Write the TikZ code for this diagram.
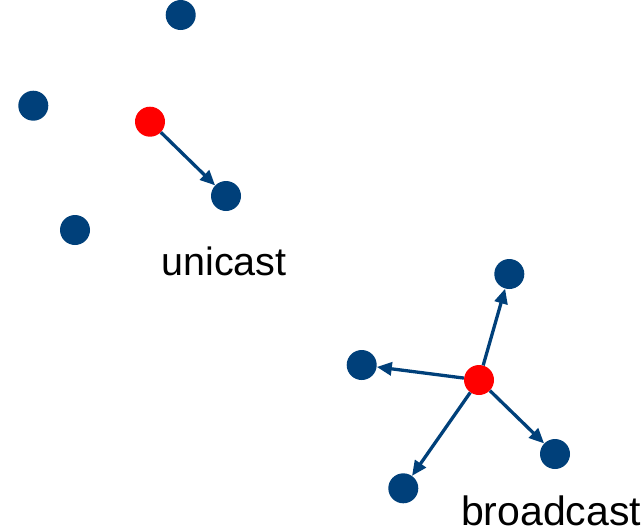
\documentclass[tikz,border=0pt]{standalone}
\usepackage{fontspec}
\setmainfont{Liberation Sans}
\usetikzlibrary{arrows.meta}
\definecolor{netblue}{RGB}{0,64,122}
\definecolor{netred}{RGB}{255,0,0}
\begin{document}
\begin{tikzpicture}[x=1pt,y=-1pt,
  host/.style={circle,fill=netblue,inner sep=0pt,minimum size=30pt},
  sender/.style={circle,fill=netred,inner sep=0pt,minimum size=30pt},
  msg/.style={draw=netblue,line width=3.3pt,-{Triangle[length=15pt,width=13pt]}},
  caption/.style={inner sep=0pt,anchor=base west}]
\useasboundingbox (0,0) rectangle (642,531);
% unicast group
\node[host] (u1) at (180.7,15) {};
\node[host] (u2) at (33.3,105.7) {};
\node[host] (u3) at (226,196) {};
\node[host] (u4) at (75,230) {};
\node[sender] (us) at (150,121.7) {};
\draw[msg] (us) -- (u3);
\node[caption,font=\fontsize{39.5}{40}\selectfont] (ulabel) at (161.2,275) {unicast};
% broadcast group
\node[host] (b1) at (509.3,274) {};
\node[host] (b2) at (361.7,365) {};
\node[host] (b3) at (555,454) {};
\node[host] (b4) at (403.3,488.3) {};
\node[sender] (bs) at (479,380) {};
\draw[msg] (bs) -- (b1);
\draw[msg] (bs) -- (b2);
\draw[msg] (bs) -- (b3);
\draw[msg] (bs) -- (b4);
\node[caption,font=\fontsize{41}{42}\selectfont] (blabel) at (460.8,525.5) {broadcast};
\end{tikzpicture}
\end{document}
